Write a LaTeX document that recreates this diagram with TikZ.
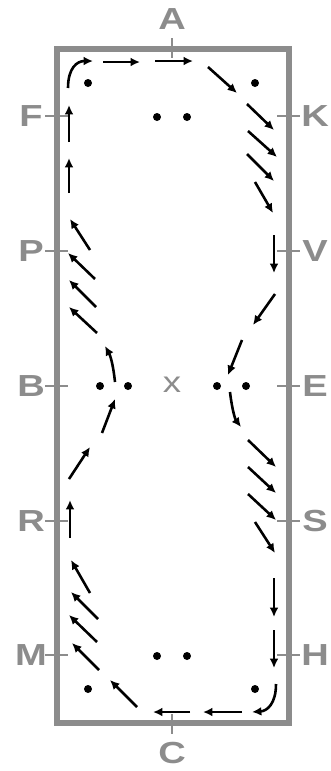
\documentclass[tikz,border=0pt]{standalone}
\usepackage{fontspec}
\usetikzlibrary{arrows.meta}
\newfontfamily\letterfont[FakeStretch=1.25]{Liberation Sans}
\definecolor{arenagray}{gray}{0.55}
\tikzset{
  trail/.style={line width=2.2pt, -{Latex[length=8pt,width=7.5pt]}},
  arenaletter/.style={text=arenagray, font=\letterfont\bfseries\fontsize{26}{26}\selectfont, inner sep=0pt},
  tickline/.style={arenagray, line width=1.2pt}
}
\begin{document}
\begin{tikzpicture}[x=0.03cm, y=-0.03cm]
  \useasboundingbox (0,0) rectangle (330,771);
  \foreach \y/\l/\r in {116/F/K, 251/P/V, 386/B/E, 521/R/S, 655/M/H} {
    \draw[tickline] (45,\y) -- (68,\y);
    \draw[tickline] (277,\y) -- (300,\y);
    \node[arenaletter] at (31,\y) {\l};
    \node[arenaletter] at (315,\y) {\r};
  }
  \draw[tickline] (172,38) -- (172,58);
  \draw[tickline] (172,714) -- (172,734);
  \node[arenaletter] at (172,19) {A};
  \node[arenaletter] at (172,753) {C};
  \draw[arenagray, line width=4.7pt] (57,49) rectangle (289,723);
  \node[text=arenagray, font=\letterfont\fontsize{25}{25}\selectfont, inner sep=0pt] at (172,385) {x};
  \foreach \x/\y in {88/83, 255/83, 157/117, 187/117, 100/386, 128/386,
                     217/386, 246/386, 157/656, 187/656, 88/689, 255/689}
    \fill (\x,\y) circle (4);
  \foreach \a/\b/\c/\d in {103/62/140/62, 155/61/193/61, 208/67/237/93,
      247/104/274/130, 248/131/277/157, 247/154/274/181, 255/182/273/213,
      274/235/274/273, 275/294/253/325, 242/340/228/375,
      248/440/276/467, 248/467/276/493, 248/494/276/520, 255/522/275/553,
      274/578/274/617, 274/630/274/668, 242/712/203/712, 190/712/153/712,
      137/707/110/680, 99/670/72/643, 97/642/69/615, 98/619/71/592,
      90/593/71/560, 70/538/70/500, 69/479/90/447, 102/433/115/399,
      97/333/69/307, 96/307/69/280, 95/279/68/253, 90/250/70/219,
      69/193/69/158, 69/142/69/105}
    \draw[trail] (\a,\b) -- (\c,\d);
  \draw[trail] (68,88) .. controls (68,68) and (77,61) .. (93,61);
  \draw[trail] (276,684) .. controls (276,704) and (267,711) .. (252,712);
  \draw[trail] (115,382) .. controls (113,363) and (110,355) .. (105,346);
  \draw[trail] (230,392) .. controls (232,409) and (235,419) .. (241,427);
\end{tikzpicture}
\end{document}
